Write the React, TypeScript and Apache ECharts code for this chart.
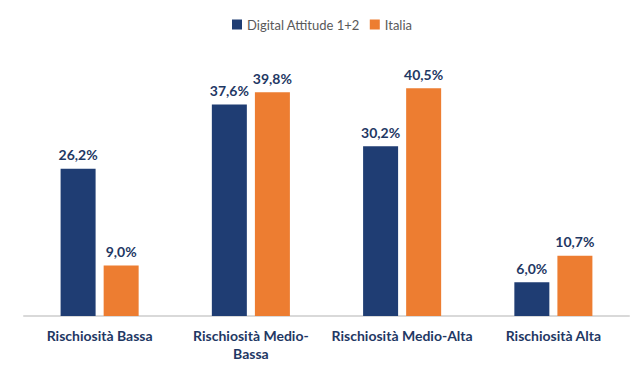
import React, { useEffect, useRef } from "react";
import * as echarts from "echarts";

const categories = ["Rischiosità Bassa", "Rischiosità Medio-\nBassa", "Rischiosità Medio-Alta", "Rischiosità Alta"];
const seriesNames = ["Digital Attitude 1+2", "Italia"];
const digitalValues = [26.2, 37.6, 30.2, 6.0];
const italiaValues = [9.0, 39.8, 40.5, 10.7];

export default function App() {
  const ref = useRef<HTMLDivElement>(null);
  useEffect(() => {
    const chart = echarts.init(ref.current!, null, { renderer: "svg" });
    const labelCfg = {
      show: true,
      position: "top",
      distance: 7,
      color: "#1f3864",
      fontWeight: "bold",
      fontSize: 14,
      fontFamily: "Lato",
      formatter: (p: any) => p.value.toFixed(1).replace(".", ",") + "%",
    };
    chart.setOption({
      animation: false,
      legend: {
        top: 13,
        left: 227,
        itemWidth: 10,
        itemHeight: 10,
        itemGap: 10,
        icon: "rect",
        textStyle: { color: "#595959", fontSize: 13, fontFamily: "Lato" },
        data: seriesNames,
      },
      grid: { left: 24, right: 1, top: 63, bottom: 52 },
      xAxis: {
        type: "category",
        data: categories,
        axisLine: { lineStyle: { color: "#d9d9d9", width: 2 } },
        axisTick: { show: false },
        axisLabel: {
          color: "#1f3864",
          fontWeight: "bold",
          fontSize: 14,
          fontFamily: "Lato",
          margin: 10,
          lineHeight: 18,
          interval: 0,
        },
      },
      yAxis: { type: "value", min: 0, max: 45, show: false, splitLine: { show: false } },
      series: [
        {
          name: seriesNames[0],
          type: "bar",
          data: digitalValues,
          barWidth: 35,
          barGap: "23%",
          itemStyle: { color: "#1f3d73" },
          label: labelCfg,
        },
        {
          name: seriesNames[1],
          type: "bar",
          data: italiaValues,
          barWidth: 35,
          itemStyle: { color: "#ed7d31" },
          label: labelCfg,
        },
      ],
    });
    return () => chart.dispose();
  }, []);
  return <div ref={ref} style={{ width: 630, height: 368, position: "absolute", left: 0, top: 0 }} />;
}
